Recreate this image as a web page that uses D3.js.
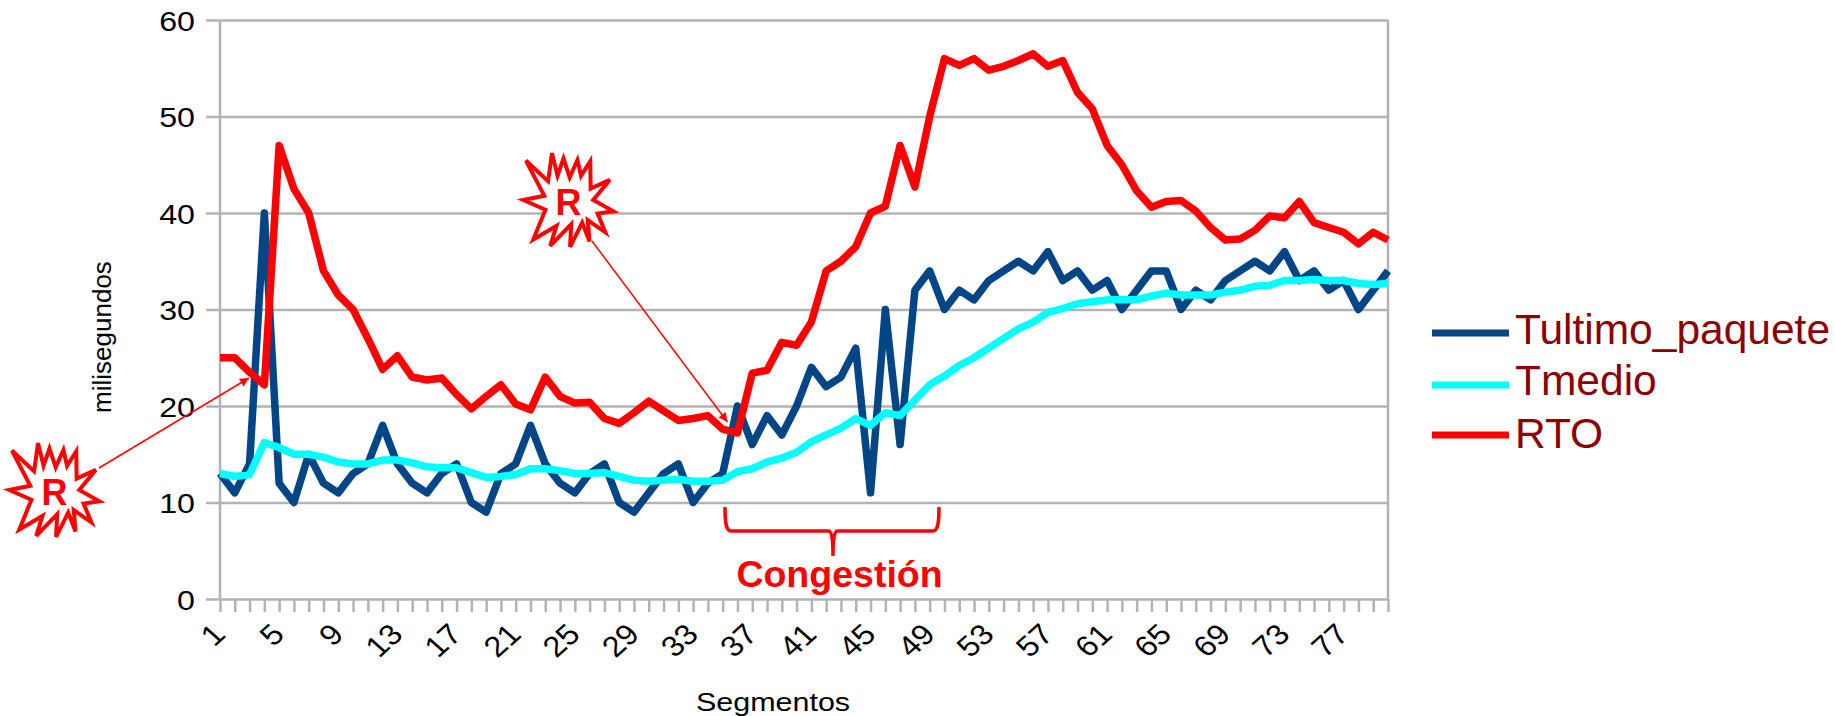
<!DOCTYPE html>
<html>
<head>
<meta charset="utf-8">
<script src="https://cdn.jsdelivr.net/npm/d3@7"></script>
<style>
    html, body { margin: 0; padding: 0; background: #fff; }
    svg { display: block; }
    text { font-family: "Liberation Sans", Arial, sans-serif; }
</style>
</head>
<body>
<div id="chart"></div>
<script>
const segmentos = d3.range(1, 81);
const yTicks = [0, 10, 20, 30, 40, 50, 60];
const xTicks = [1, 5, 9, 13, 17, 21, 25, 29, 33, 37, 41, 45, 49, 53, 57, 61, 65, 69, 73, 77];

const tultimo = [13, 11, 14, 40, 12, 10, 15, 12, 11, 13, 14, 18, 14, 12, 11, 13, 14, 10, 9, 13,
    14, 18, 14, 12, 11, 13, 14, 10, 9, 11, 13, 14, 10, 12, 13, 20, 16, 19, 17, 20,
    24, 22, 23, 26, 11, 30, 16, 32, 34, 30, 32, 31, 33, 34, 35, 34, 36, 33, 34, 32,
    33, 30, 32, 34, 34, 30, 32, 31, 33, 34, 35, 34, 36, 33, 34, 32, 33, 30, 32, 34];
const tmedio = [13, 12.7, 12.9, 16.2, 15.7, 15, 15, 14.7, 14.2, 14, 14, 14.4, 14.4, 14.1, 13.7, 13.6, 13.6, 13.1, 12.6, 12.7,
    12.9, 13.5, 13.5, 13.3, 13, 13, 13.1, 12.7, 12.3, 12.2, 12.3, 12.4, 12.2, 12.2, 12.3, 13.2, 13.5, 14.2, 14.6, 15.2,
    16.3, 17, 17.7, 18.7, 18, 19.3, 19, 20.6, 22.2, 23.1, 24.2, 25, 26, 27, 28, 28.7, 29.7, 30.1, 30.6, 30.8,
    31, 31, 31, 31.4, 31.7, 31.5, 31.5, 31.5, 31.8, 32, 32.4, 32.5, 33, 33, 33.1, 33, 33, 32.7, 32.6, 32.7];
const rto = [25, 25, 23.5, 22.2, 47, 42.5, 40, 34, 31.5, 30, 27, 23.8, 25.2, 23, 22.7, 22.9, 21.2, 19.7, 21, 22.2,
    20.2, 19.6, 23, 21, 20.3, 20.4, 18.7, 18.2, 19.3, 20.5, 19.5, 18.5, 18.7, 19, 17.6, 17.2, 23.4, 23.7, 26.6, 26.3,
    28.7, 34, 35, 36.5, 40, 40.7, 47, 42.7, 50, 56, 55.3, 56, 54.8, 55.2, 55.8, 56.5, 55.2, 55.8, 52.5, 50.8,
    47, 45, 42.3, 40.6, 41.2, 41.3, 40.2, 38.5, 37.2, 37.3, 38.2, 39.7, 39.5, 41.2, 39, 38.5, 38, 36.8, 38, 37.2];

const series = [
    {name: 'Tultimo_paquete', values: tultimo, color: '#004586'},
    {name: 'Tmedio', values: tmedio, color: '#00ffff'},
    {name: 'RTO', values: rto, color: '#ff0000'}
];

// outline of the "R" bursts, relative to their centre
const burst = [[-45.9, -40.7], [-22.1, -19.3], [-17.8, -48.3], [-11.9, -25], [-5.5, -42.7], [1.2, -23.3], [9.5, -41.3],
    [13.4, -25], [23.3, -40], [23.7, -11.7], [44.3, -20.7], [26.5, 0], [48.2, 11.7], [31.2, 14], [39.5, 33.3],
    [20.6, 20.7], [22.5, 42.7], [14.6, 23.3], [1.6, 48.3], [2.8, 25], [-19.8, 47.3], [-13, 26.7], [-38, 40.7],
    [-24.9, 10], [-48.6, 0], [-26.1, -4.3]];

const width = 1835, height = 716;
const left = 220, right = 1388, top_ = 20, bottom = 599;
const axisColor = '#b3b3b3';
const red = '#ff0000';

const x = d3.scaleLinear().domain([1, 80]).range([left, right]);
const y = d3.scaleLinear().domain([0, 60]).range([bottom, top_]);

const svg = d3.select('#chart').append('svg').attr('width', width).attr('height', height);

svg.append('defs').append('marker')
    .attr('id', 'arrow')
    .attr('viewBox', '0 0 10 10')
    .attr('refX', 10).attr('refY', 5)
    .attr('markerWidth', 11).attr('markerHeight', 9)
    .attr('markerUnits', 'userSpaceOnUse')
    .attr('orient', 'auto')
    .append('path').attr('d', 'M0,0L10,5L0,10Z').attr('fill', red);

// y axis with grid
const yAxis = svg.append('g')
    .attr('transform', `translate(${left},0)`)
    .call(d3.axisLeft(y).tickValues(yTicks).tickSize(14).tickPadding(9));
yAxis.select('.domain').remove();
yAxis.selectAll('.tick line').attr('stroke', axisColor).attr('stroke-width', 2.5);
yAxis.selectAll('.tick').append('line')
    .attr('x1', 0).attr('x2', right - left)
    .attr('stroke', axisColor).attr('stroke-width', 2.5);
yAxis.selectAll('.tick text')
    .attr('font-size', 28)
    .attr('fill', '#000')
    .attr('dy', null)
    .attr('dominant-baseline', null)
    .attr('y', 10)
    .attr('x', 0)
    .attr('transform', 'translate(-25,0) scale(1.15,1)');

// x axis, a tick on every segment and a label every fourth
const xAxis = svg.append('g')
    .attr('transform', `translate(0,${bottom})`)
    .call(d3.axisBottom(x).tickValues(segmentos).tickSize(13).tickFormat(''));
xAxis.select('.domain').remove();
xAxis.selectAll('.tick line').attr('stroke', axisColor).attr('stroke-width', 2.5);

svg.append('line').attr('x1', left).attr('x2', left).attr('y1', top_).attr('y2', bottom)
    .attr('stroke', axisColor).attr('stroke-width', 2.5);
svg.append('line').attr('x1', right).attr('x2', right).attr('y1', top_).attr('y2', bottom)
    .attr('stroke', axisColor).attr('stroke-width', 2.5);

svg.append('g').selectAll('text')
    .data(xTicks)
    .join('text')
    .attr('text-anchor', 'end')
    .attr('font-size', 29)
    .attr('fill', '#000')
    .attr('transform', d => `translate(${x(d) + 7},${bottom + 37}) scale(1.12,1) rotate(-45)`)
    .text(d => d);

// series
const line = d3.line().x((d, i) => x(segmentos[i])).y(d => y(d));
svg.append('g').selectAll('path')
    .data(series)
    .join('path')
    .attr('d', d => line(d.values))
    .attr('fill', 'none')
    .attr('stroke', d => d.color)
    .attr('stroke-width', 7.5)
    .attr('stroke-linejoin', 'round');

// axis titles
svg.append('text')
    .attr('text-anchor', 'middle')
    .attr('font-size', 25)
    .attr('transform', 'translate(773,711) scale(1.22,1)')
    .text('Segmentos');
svg.append('text')
    .attr('text-anchor', 'middle')
    .attr('font-size', 26)
    .attr('transform', 'translate(111,337) rotate(-90)')
    .text('milisegundos');

// legend
const legend = svg.append('g').selectAll('g')
    .data(series)
    .join('g')
    .attr('transform', (d, i) => `translate(0,${[333, 385, 435][i]})`);
legend.append('line')
    .attr('x1', 1432).attr('x2', 1509)
    .attr('stroke', d => d.color).attr('stroke-width', 7);
legend.append('text')
    .attr('x', 1515).attr('y', (d, i) => [11, 10, 13][i])
    .attr('font-size', 42.5)
    .attr('fill', '#8b0000')
    .text(d => d.name);

// annotations
const annotations = [
    {cx: 54.6, cy: 490, from: [99, 468], to: [249, 378]},
    {cx: 568.6, cy: 200, from: [592, 241], to: [727.5, 422]}
];
annotations.forEach(a => {
    svg.append('line')
        .attr('x1', a.from[0]).attr('y1', a.from[1])
        .attr('x2', a.to[0]).attr('y2', a.to[1])
        .attr('stroke', red).attr('stroke-width', 1.5)
        .attr('marker-end', 'url(#arrow)');
    svg.append('polygon')
        .attr('points', burst.map(p => [a.cx + p[0] * 0.93, a.cy + p[1] * 0.97].join(',')).join(' '))
        .attr('fill', '#fff').attr('stroke', red).attr('stroke-width', 4);
    svg.append('text')
        .attr('x', a.cx).attr('y', a.cy + 15)
        .attr('text-anchor', 'middle')
        .attr('font-size', 36).attr('font-weight', 'bold')
        .attr('fill', red)
        .text('R');
});

// congestion brace
svg.append('path')
    .attr('d', 'M725,507C725,522 726,531 731,531H829Q833,531 833,556Q833,531 837,531H933C938,531 939,522 939,507')
    .attr('fill', 'none').attr('stroke', red).attr('stroke-width', 3.5);
svg.append('text')
    .attr('x', 839.5).attr('y', 587)
    .attr('text-anchor', 'middle')
    .attr('font-size', 37.5).attr('font-weight', 'bold')
    .attr('fill', red)
    .text('Congestión');
</script>
</body>
</html>
